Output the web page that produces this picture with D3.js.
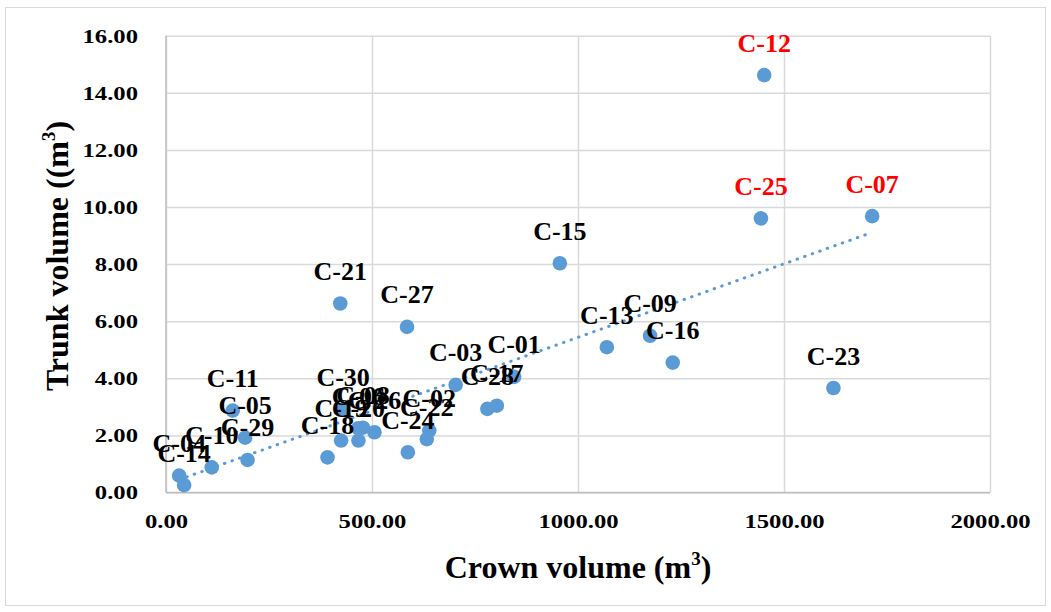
<!DOCTYPE html>
<html>
<head>
<meta charset="utf-8">
<script src="https://cdn.jsdelivr.net/npm/d3@7"></script>
<style>
  html, body { margin: 0; padding: 0; background: #fff; }
  svg { display: block; }
  text { font-family: "Liberation Serif", "Times New Roman", serif; font-weight: bold; }
</style>
</head>
<body>
<svg id="chart" width="1051" height="612"></svg>
<script>
// Tree crown volume vs trunk volume, one labelled point per tree
const treeIds = ["C-01","C-02","C-03","C-04","C-05","C-06","C-07","C-08","C-09","C-10",
                 "C-11","C-12","C-13","C-14","C-15","C-16","C-17","C-18","C-19","C-20",
                 "C-21","C-22","C-23","C-24","C-25","C-26","C-27","C-28","C-29","C-30"];
const crownVolume = [845, 639, 703, 32, 192, 467, 1714, 478, 1175, 111,
                     162, 1452, 1070, 44, 956, 1230, 803, 392, 425, 467,
                     423, 633, 1620, 587, 1444, 506, 585, 780, 198, 430];
const trunkVolume = [4.05, 2.17, 3.77, 0.59, 1.92, 2.25, 9.68, 2.27, 5.49, 0.88,
                     2.87, 14.62, 5.09, 0.26, 8.03, 4.55, 3.04, 1.23, 1.82, 1.82,
                     6.62, 1.87, 3.66, 1.41, 9.60, 2.11, 5.80, 2.93, 1.14, 2.89];
// Trees whose labels are highlighted
const highlighted = ["C-12", "C-25", "C-07"];

const xTicks = [0, 500, 1000, 1500, 2000];
const yTicks = [0, 2, 4, 6, 8, 10, 12, 14, 16];
const xTitle = "Crown volume (m";
const yTitle = "Trunk volume ((m";

const points = treeIds.map((id, i) => ({ id, x: crownVolume[i], y: trunkVolume[i] }));

const svg = d3.select("#chart");
const plot = { left: 166, right: 990, top: 35.7, bottom: 492.5 };

const x = d3.scaleLinear().domain([0, 2000]).range([plot.left, plot.right]);
const y = d3.scaleLinear().domain([0, 16]).range([plot.bottom, plot.top]);

// Chart frame
svg.append("rect")
  .attr("x", 5.5).attr("y", 7.5).attr("width", 1040).attr("height", 598)
  .attr("fill", "#fff").attr("stroke", "#d9d9d9").attr("stroke-width", 1);

// Gridlines
svg.append("g")
  .attr("transform", `translate(0,${plot.bottom})`)
  .call(d3.axisBottom(x).tickValues(xTicks).tickSize(-(plot.bottom - plot.top)).tickFormat(""))
  .call(g => g.select(".domain").remove())
  .call(g => g.selectAll("line").attr("stroke", "#d9d9d9").attr("stroke-width", 1.5));
svg.append("g")
  .attr("transform", `translate(${plot.left},0)`)
  .call(d3.axisLeft(y).tickValues(yTicks).tickSize(-(plot.right - plot.left)).tickFormat(""))
  .call(g => g.select(".domain").remove())
  .call(g => g.selectAll("line").attr("stroke", "#d9d9d9").attr("stroke-width", 1.5));

// Axis lines
svg.append("line")
  .attr("x1", plot.left).attr("x2", plot.right).attr("y1", plot.bottom).attr("y2", plot.bottom)
  .attr("stroke", "#bfbfbf").attr("stroke-width", 1.5);
svg.append("line")
  .attr("x1", plot.left).attr("x2", plot.left).attr("y1", plot.top).attr("y2", plot.bottom)
  .attr("stroke", "#bfbfbf").attr("stroke-width", 1.5);

// Tick labels
const fmt = d3.format(".2f");
const xAxis = svg.append("g")
  .attr("transform", `translate(0,${plot.bottom})`)
  .call(d3.axisBottom(x).tickValues(xTicks).tickSize(0).tickPadding(0).tickFormat(fmt));
xAxis.select(".domain").remove();
xAxis.selectAll("text")
  .attr("y", 0).attr("dy", 0)
  .attr("font-size", 19).attr("fill", "#000")
  .attr("transform", "translate(0,35) scale(1.3,1)");

const yAxis = svg.append("g")
  .attr("transform", `translate(${plot.left},0)`)
  .call(d3.axisLeft(y).tickValues(yTicks).tickSize(0).tickPadding(0).tickFormat(fmt));
yAxis.select(".domain").remove();
yAxis.selectAll("text")
  .attr("x", 0).attr("dy", "0.34em")
  .attr("font-size", 19).attr("fill", "#000")
  .attr("transform", "translate(-28,0) scale(1.3,1)");

// Axis titles
const xt = svg.append("text")
  .attr("x", (plot.left + plot.right) / 2).attr("y", 578)
  .attr("text-anchor", "middle").attr("font-size", 32).attr("fill", "#000")
  .text(xTitle);
xt.append("tspan").attr("font-size", 19).attr("dy", -13).text("3");
xt.append("tspan").attr("dy", 13).text(")");

const yt = svg.append("text")
  .attr("transform", "translate(68,256) rotate(-90)")
  .attr("text-anchor", "middle").attr("font-size", 32).attr("fill", "#000")
  .text(yTitle);
yt.append("tspan").attr("font-size", 19).attr("dy", -13).text("3");
yt.append("tspan").attr("dy", 13).text(")");

// Linear trendline (least squares) across the data range
const mx = d3.mean(points, d => d.x), my = d3.mean(points, d => d.y);
const slope = d3.sum(points, d => (d.x - mx) * (d.y - my)) / d3.sum(points, d => (d.x - mx) ** 2);
const intercept = my - slope * mx;
const [xmin, xmax] = d3.extent(points, d => d.x);
svg.append("line")
  .attr("x1", x(xmin)).attr("y1", y(intercept + slope * xmin))
  .attr("x2", x(xmax)).attr("y2", y(intercept + slope * xmax))
  .attr("stroke", "#5b9bd5").attr("stroke-width", 3)
  .attr("stroke-linecap", "round").attr("stroke-dasharray", "0.5 7.5");

// Points
svg.append("g").selectAll("circle")
  .data(points).join("circle")
  .attr("cx", d => x(d.x)).attr("cy", d => y(d.y)).attr("r", 7.3)
  .attr("fill", "#5b9bd5");

// Point labels above each marker
svg.append("g").selectAll("text")
  .data(points).join("text")
  .attr("x", d => x(d.x)).attr("y", d => y(d.y) - 23.5)
  .attr("text-anchor", "middle").attr("font-size", 26)
  .attr("fill", d => highlighted.includes(d.id) ? "#ff0000" : "#000")
  .text(d => d.id);
</script>
</body>
</html>
